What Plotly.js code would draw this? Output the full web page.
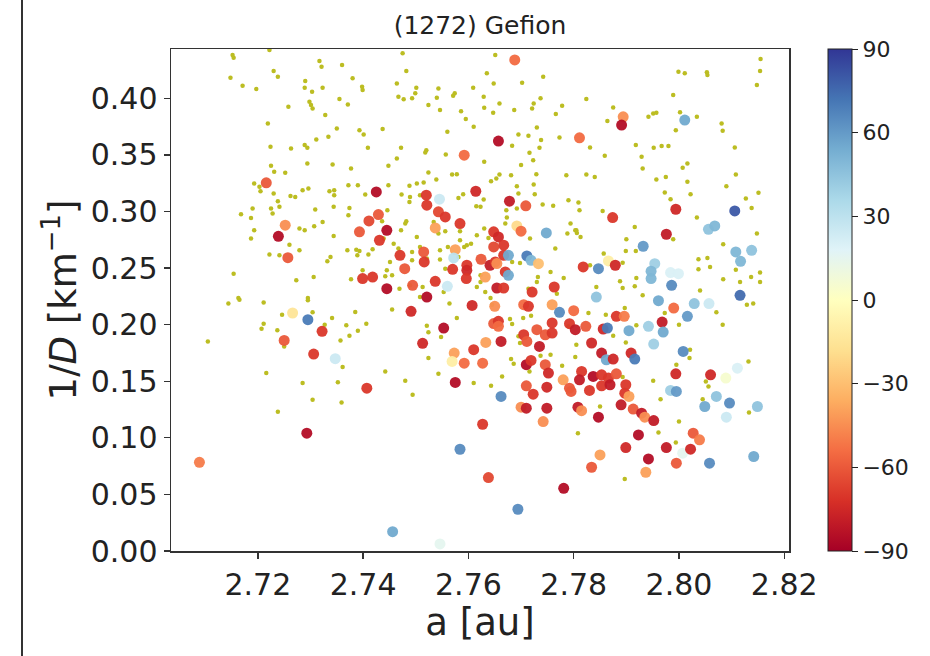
<!DOCTYPE html>
<html>
<head>
<meta charset="utf-8">
<script src="https://cdn.plot.ly/plotly-3.0.1.min.js"></script>
<style>html,body{margin:0;padding:0;background:#fff}#chart{width:930px;height:656px}</style>
</head>
<body>
<div id="chart"></div>
<script>
// Background family members (small olive dots): semi-major axis a [au] and 1/D [km^-1]
const dotA = [2.7152,2.7154,2.7222,2.7148,2.7171,2.7197,2.7230,2.7238,2.7258,2.7290,2.7289,2.7303,2.7323,2.7317,2.7321,2.7360,2.7380,2.7398,2.7399,2.7355,2.7371,2.7298,2.7301,2.7304,2.7328,2.7219,2.7350,2.7334,2.7311,2.7393,2.7401,2.7409,2.7224,2.7263,2.7289,2.7294,2.7294,2.7342,2.7377,2.7225,2.7231,2.7252,2.7193,2.7203,2.7205,2.7230,2.7262,2.7271,2.7285,2.7296,2.7336,2.7345,2.7345,2.7372,2.7390,2.7404,2.7238,2.7241,2.7225,2.7228,2.7168,2.7190,2.7187,2.7309,2.7344,2.7374,2.7372,2.7193,2.7187,2.7279,2.7289,2.7307,2.7323,2.7344,2.7260,2.7279,2.7222,2.7241,2.7332,2.7338,2.7370,2.7387,2.7393,2.7389,2.7410,2.7418,2.7377,2.7399,2.7154,2.7273,2.7306,2.7163,2.7295,
2.7144,2.7165,2.7211,2.7295,2.7246,2.7304,2.7341,2.7385,2.7211,2.7207,2.7237,2.7327,2.7368,2.7406,2.7390,2.7374,2.7357,2.7105,2.7250,2.7361,2.7216,2.7285,2.7352,2.7304,2.7359,2.7238,
2.7475,2.7482,2.7464,2.7501,2.7499,2.7467,2.7477,2.7493,2.7543,2.7540,2.7524,2.7546,2.7574,2.7571,2.7609,2.7586,2.7595,2.7610,2.7629,2.7630,2.7635,2.7648,2.7651,2.7659,2.7647,2.7687,2.7702,2.7742,2.7737,2.7724,2.7721,2.7778,2.7766,2.7730,2.7695,2.7714,2.7773,2.7738,2.7735,2.7716,2.7723,2.7700,2.7683,2.7681,2.7729,2.7786,2.7437,2.7472,2.7464,2.7448,2.7520,2.7518,2.7557,2.7560,2.7630,2.7524,2.7539,2.7515,2.7502,2.7488,2.7448,2.7473,2.7489,2.7488,2.7508,2.7569,2.7578,2.7581,2.7590,2.7615,2.7623,2.7629,2.7643,2.7653,2.7659,2.7692,2.7695,2.7724,2.7726,2.7741,2.7761,2.7790,2.7809,2.7811,2.7794,2.7805,2.7806,2.7788,2.7672,2.7670,2.7673,2.7692,2.7630,2.7616,2.7638,2.7605,2.7592,2.7584,2.7584,2.7556,2.7561,2.7534,2.7502,2.7493,2.7480,2.7482,2.7472,2.7446,2.7436,2.7439,2.7458,2.7467,2.7451,2.7543,2.7508,2.7556,2.7546,2.7521,2.7546,2.7493,2.7445,2.7489,2.7513,2.7469,2.7455,2.7442,2.7508,2.7623,2.7623,2.7616,2.7581,2.7597,2.7683,2.7698,2.7717,2.7732,2.7714,2.7730,2.7781,2.7803,2.7813,2.7765,2.7756,2.7768,2.7632,2.7642,2.7553,
2.7999,2.8011,2.8053,2.8054,2.8155,2.8154,2.8148,2.7989,2.7824,2.7875,2.7864,2.7942,2.7951,2.7957,2.8002,2.8034,2.7994,2.8081,2.8083,2.7918,2.7952,2.7967,2.7980,2.7859,2.7929,2.7931,2.8007,2.8016,2.8106,2.7831,2.7824,2.7840,2.7957,2.7975,2.8016,2.8022,2.7973,2.7984,2.8108,2.8090,2.8151,2.8127,2.8138,2.7855,2.8034,2.7916,2.7900,2.7899,2.7918,2.7857,2.7893,2.7989,2.8037,2.8054,2.8084,2.8148,2.8037,2.8059,2.8108,2.8154,2.8137,2.8084,2.7831,2.7843,2.7888,2.7893,2.7916,2.7919,2.7931,2.8040,2.8154,2.8116,
2.7455,2.7442,2.7480,2.7494,2.7521,2.7524,2.7548,2.7578,2.7564,2.7543,2.7610,2.7643,2.7664,2.7524,2.7679,2.7683,2.7704,2.7719,2.7645,2.7698,2.7695,2.7681,2.7686,2.7716,2.7737,2.7756,2.7778,2.7803,2.7808,2.7790,2.7805,
2.7897,2.7861,2.7828,2.7919,2.7875,2.7899,2.7973,2.8000,2.8083,2.8071,2.8129,2.8141,2.8132,2.8021,2.8020,2.7995,2.7951,2.7965,2.8056,2.8051,2.8045,2.8000,2.7961,2.7994,2.8133,2.7850,2.7893,2.7897];
const dotInvD = [0.4383,0.4359,0.4427,0.4182,0.4112,0.4082,0.4241,0.4191,0.3926,0.4153,0.4094,0.4059,0.4094,0.4330,0.4280,0.4295,0.4177,0.4103,0.4073,0.3994,0.3946,0.3970,0.3941,0.3911,0.3852,0.3778,0.3734,0.3660,0.3637,0.3719,0.3681,0.3563,0.3572,0.3557,0.3587,0.3563,0.3424,0.3415,0.3380,0.3404,0.3351,0.3342,0.3247,0.3218,0.3179,0.3159,0.3138,0.3129,0.3188,0.3203,0.3179,0.3188,0.3144,0.3233,0.3233,0.3150,0.3091,0.3041,0.3026,0.2982,0.2976,0.3026,0.2943,0.3017,0.3041,0.3032,0.2967,0.2834,0.2761,0.2849,0.2834,0.2870,0.2908,0.2784,0.2707,0.2657,0.2619,0.2613,0.2560,0.2598,0.2657,0.2663,0.2651,0.2613,0.2619,0.2666,0.2401,0.2480,0.2451,0.2392,0.2421,0.2236,0.2236,
0.2186,0.2221,0.2197,0.2215,0.2088,0.2109,0.2059,0.2112,0.2009,0.1964,0.1950,0.1999,0.1994,0.2009,0.1947,0.1902,0.1861,0.1852,0.1808,0.1625,0.1572,0.1484,0.1492,0.1336,0.1312,0.1230,
0.4398,0.4241,0.4132,0.4094,0.4044,0.4014,0.3991,0.4000,0.4088,0.4005,0.3941,0.3896,0.4044,0.4023,0.4094,0.3887,0.3817,0.3749,0.4014,0.3917,0.4221,0.4132,0.4383,0.3955,0.3873,0.3896,0.4138,0.4191,0.4000,0.3955,0.3911,0.3935,0.3861,0.3743,0.3681,0.3669,0.3654,0.3631,0.3563,0.3519,0.3454,0.3410,0.3581,0.3321,0.3330,0.3321,0.3728,0.3563,0.3469,0.3404,0.3542,0.3522,0.3504,0.3705,0.3439,0.3345,0.3283,0.3256,0.3247,0.3227,0.3233,0.3150,0.3129,0.3085,0.3144,0.3327,0.3330,0.3120,0.3153,0.3047,0.3041,0.3106,0.3268,0.3292,0.3327,0.3224,0.3159,0.3238,0.3153,0.3061,0.3050,0.3100,0.3079,0.3011,0.2893,0.2834,0.2811,0.2805,0.3011,0.2893,0.2946,0.3026,0.2849,0.2790,0.2766,0.2716,0.2687,0.2825,0.2746,0.2825,0.2687,0.2908,0.2775,0.2643,0.2893,0.2914,0.2834,0.3011,0.2914,0.2761,0.2716,0.2672,0.2554,0.2805,0.2687,0.2495,0.2575,0.2584,0.2657,0.2569,0.2480,0.2348,0.2333,0.2318,0.2436,0.2427,0.2244,0.2436,0.2377,0.2333,0.2598,0.2702,0.2554,0.2545,0.2761,0.2421,0.2318,0.2377,0.2413,0.2834,0.2775,0.2672,0.2466,0.2274,0.2289,0.2236,0.2289,
0.4236,0.4221,0.4230,0.4206,0.4348,0.4241,0.4118,0.4029,0.3994,0.3920,0.3799,0.3837,0.3867,0.3873,0.3876,0.3837,0.3719,0.3778,0.3713,0.3587,0.3563,0.3578,0.3578,0.3492,0.3483,0.3380,0.3386,0.3424,0.3566,0.3566,0.3327,0.3306,0.3283,0.3306,0.3262,0.3153,0.3168,0.3109,0.3327,0.3224,0.3165,0.3115,0.3032,0.3005,0.2946,0.2864,0.2755,0.2651,0.2651,0.2628,0.2548,0.2755,0.2578,0.2590,0.2710,0.2805,0.2489,0.2510,0.2486,0.2460,0.2421,0.2401,0.2525,0.2333,0.2383,0.2324,0.2339,0.2413,0.2259,0.2303,0.2377,0.2377,
0.2133,0.1587,0.1504,0.1380,0.1991,0.1932,0.1891,0.2059,0.2186,0.1566,0.1484,0.1460,0.1543,0.1705,0.2050,0.2006,0.2059,0.2079,0.2177,0.1838,0.1897,0.1696,0.1655,0.1587,0.1725,0.1734,0.1637,0.1714,0.1041,0.1985,0.1823,
0.2147,0.2088,0.2103,0.1994,0.1902,0.1843,0.2103,0.1999,0.1999,0.2109,0.2177,0.2186,0.1675,0.1779,0.1705,0.1646,0.1504,0.1342,0.1454,0.1498,0.1342,0.1144,0.1047,0.0959,0.1224,0.1277,0.1537,0.0637];

// Coloured members: a [au], 1/D [km^-1], colour value (-90..90)
const ptA = [2.7089,2.7216,2.7252,2.7239,2.7257,2.7266,2.7295,2.7322,2.7250,2.7306,2.7347,2.7407,2.7293,2.7425,2.7411,2.7429,2.7393,2.7445,2.7431,2.7399,2.7418,2.7445,2.7470,2.7515,2.7516,2.7479,2.7494,2.7520,2.7521,2.7543,2.7556,2.7545,2.7537,2.7584,2.7575,2.7572,2.7597,2.7597,2.7570,2.7624,2.7641,2.7651,2.7667,2.7654,2.7676,2.7670,2.7676,2.7711,2.7719,2.7733,2.7632,2.7537,2.7560,2.7596,2.7654,2.7667,2.7721,2.7763,2.7521,2.7818,2.7648,2.7657,2.7667,2.7648,2.7692,2.7700,2.7748,2.7614,2.7678,2.7709,2.7592,2.7657,2.7688,2.7811,2.7491,2.7607,2.7553,2.7513,2.7573,2.7569,2.7592,2.7610,2.7627,2.7633,2.7662,2.7648,2.7657,2.7657,2.7650,2.7575,2.7662,2.7627,2.7584,2.7638,2.7781,2.7694,2.7456,2.7546,2.7705,2.7714,2.7759,2.7773,2.7800,2.7705,2.7711,2.7730,2.7746,2.7759,2.7759,2.7792,2.7803,2.7735,2.7710,2.7719,2.7746,2.7752,2.7780,2.7792,2.7795,2.7815,2.7811,2.7710,2.7723,2.7749,2.7700,2.7710,2.7749,2.7742,2.7808,2.7815,2.7894,2.7891,2.8011,2.7874,2.7994,2.8106,2.7976,2.8056,2.8068,2.7932,2.8108,2.8117,2.8138,2.7866,2.7879,2.7847,2.7954,2.7947,2.7947,2.7984,2.7999,2.7986,2.8116,2.7843,2.7961,2.7990,2.8029,2.8057,2.8016,2.7881,2.7896,2.7823,2.7856,2.7864,2.7905,2.7942,2.7968,2.7970,2.7952,2.7834,2.7853,2.7862,2.7875,2.7909,2.7916,2.8008,2.8111,2.8089,2.8060,2.7994,2.7984,2.7995,2.8071,2.8096,2.8049,2.8149,2.8090,2.7837,2.7853,2.7866,2.7881,2.7830,2.7853,2.7869,2.7899,2.7897,2.7905,2.7890,2.7913,2.7929,2.7935,2.7952,2.7847,2.7923,2.7899,2.7850,2.7834,2.7942,2.7937,2.7976,2.7995,2.8007,2.8022,2.8027,2.8039,2.8058,2.8142];
const ptInvD = [0.0784,0.3253,0.2879,0.2781,0.2592,0.2103,0.2044,0.1941,0.1861,0.1740,0.1699,0.1439,0.1041,0.3173,0.2917,0.2973,0.2820,0.2834,0.2746,0.2407,0.2421,0.2318,0.2613,0.2643,0.2554,0.2495,0.2348,0.3144,0.3056,0.2997,0.2952,0.3109,0.2855,0.2893,0.2663,0.2590,0.2525,0.2480,0.2489,0.2578,0.2525,0.2554,0.2613,0.2540,0.2613,0.2466,0.2436,0.2607,0.2569,0.2539,0.2421,0.2383,0.2339,0.2407,0.2324,0.2324,0.2288,0.2333,0.2244,0.2510,0.2820,0.2775,0.2702,0.2687,0.2873,0.2826,0.2811,0.3179,0.3091,0.3050,0.3498,0.3622,0.4339,0.3651,0.2118,0.2170,0.1970,0.1835,0.1749,0.1675,0.1660,0.1779,0.1660,0.1843,0.1852,0.2010,0.2030,0.1985,0.2162,0.1490,0.1366,0.1120,0.0899,0.0649,0.0554,0.0369,0.0171,0.0062,0.2177,0.2162,0.2177,0.2109,0.2124,0.1911,0.1852,0.1956,0.1911,0.1926,0.2015,0.2009,0.1956,0.1808,0.1646,0.1684,0.1646,0.1572,0.1513,0.1439,0.1410,0.1587,0.1513,0.1460,0.1386,0.1448,0.1271,0.1262,0.1262,0.1144,0.1271,0.1240,0.3837,0.3764,0.3808,0.2946,0.3020,0.3005,0.2799,0.2843,0.2873,0.2693,0.2643,0.2560,0.2657,0.2563,0.2525,0.2495,0.2539,0.2472,0.2407,0.2460,0.2451,0.2348,0.2259,0.2244,0.2212,0.2147,0.2186,0.2186,0.2074,0.2074,0.2074,0.1985,0.1961,0.1970,0.1947,0.1985,0.2023,0.1935,0.1829,0.1838,0.1749,0.1690,0.1696,0.1749,0.1696,0.1764,0.1616,0.1528,0.1557,0.1566,0.1419,0.1410,0.1366,0.1307,0.1277,0.1277,0.1183,0.1543,0.1557,0.1528,0.1566,0.1419,0.1460,0.1469,0.1469,0.1395,0.1366,0.1292,0.1254,0.1218,0.1183,0.1153,0.1183,0.1026,0.0914,0.0849,0.0740,0.0814,0.0696,0.0914,0.0776,0.0864,0.0900,0.1041,0.0982,0.0776,0.0835];
const ptVal = [-50,-60,-45,-85,-60,-15,70,-70,-60,-70,25,-70,-85,-85,-65,-60,-60,-85,-70,-70,-70,-85,-70,-60,-70,-60,-60,-70,-70,-65,-70,25,-40,-70,-40,30,-70,-75,-70,-60,-80,-70,-70,-45,55,-70,55,70,50,-30,-40,-70,25,-70,-80,-70,-70,-70,-85,-70,-70,-75,-70,-65,-20,-55,55,-75,-80,-60,-55,-85,-55,-55,-75,-75,-85,-75,-40,-10,-55,-70,-55,-40,-80,-60,-70,-55,-45,-85,65,-70,65,-65,-85,65,55,15,-55,-70,-40,65,-55,-70,-60,-60,-60,-70,-70,-70,-80,-80,-85,-70,-60,-75,-40,-60,-60,-70,-80,-60,-70,-75,-45,-80,-80,-45,-80,-45,-45,-85,55,-70,-75,80,-80,45,50,60,50,50,45,-10,-75,65,40,50,50,20,20,65,75,45,55,-55,45,25,60,-70,-50,-60,-75,70,55,40,-80,55,40,-75,-80,55,-75,-75,70,65,20,5,-75,-75,40,60,45,65,55,45,25,-85,-70,-70,-60,-70,-70,-80,-70,-70,-40,-80,-60,-80,-45,-80,-85,-85,-75,-40,-60,-85,-40,-80,-60,15,-75,-60,-50,65,55];

const xTicks = [2.72, 2.74, 2.76, 2.78, 2.80, 2.82];
const yTicks = [0.00, 0.05, 0.10, 0.15, 0.20, 0.25, 0.30, 0.35, 0.40];
const cbTicks = [-90, -60, -30, 0, 30, 60, 90];

const rdylbu = [[0.0,'#a50026'],[0.1,'#d73027'],[0.2,'#f46d43'],[0.3,'#fdae61'],[0.4,'#fee090'],[0.5,'#ffffbf'],[0.6,'#e0f3f8'],[0.7,'#abd9e9'],[0.8,'#74add1'],[0.9,'#4575b4'],[1.0,'#313695']];
const F = 'DejaVu Sans, sans-serif';

const traces = [
  {type:'scatter', mode:'markers', x: dotA, y: dotInvD, hoverinfo:'skip',
   marker:{size:4.5, color:'#bcbd22', line:{width:0}}},
  {type:'scatter', mode:'markers', x: ptA, y: ptInvD,
   marker:{size:11, color: ptVal, cmin:-90, cmax:90, colorscale: rdylbu, opacity:0.95, line:{width:0},
     colorbar:{x:1.063, xanchor:'left', xpad:0, ypad:0, y:0.5, yanchor:'middle', len:1, lenmode:'fraction',
       thickness:24, thicknessmode:'pixels', outlinewidth:1, outlinecolor:'#222',
       tickmode:'array', tickvals: cbTicks, ticktext: cbTicks.map(v => v < 0 ? '\u2212' + Math.abs(v) : String(v)),
       ticks:'outside', ticklen:6, tickwidth:1, tickcolor:'#222',
       tickfont:{family:F, size:22, color:'#222'}}}}
];

const layout = {
  width:930, height:656,
  margin:{l:171, r:141, t:49, b:105},
  paper_bgcolor:'#fff', plot_bgcolor:'#fff',
  showlegend:false,
  title:{text:'(1272) Gefion', font:{family:F, size:25, color:'#222'}, x:0.5, xref:'paper', y:0.962, yref:'container', yanchor:'middle'},
  xaxis:{range:[2.7035, 2.8209], tickmode:'array', tickvals:xTicks, tickformat:'.2f',
    ticks:'outside', ticklen:6, tickwidth:1.3, tickcolor:'#333',
    showline:true, mirror:true, linecolor:'#333', linewidth:1.5, showgrid:false, zeroline:false,
    tickfont:{family:F, size:30, color:'#222'},
    title:{text:'a [au]', font:{family:F, size:37, color:'#222'}, standoff:4}},
  yaxis:{range:[0, 0.4436], tickmode:'array', tickvals:yTicks, tickformat:'.2f',
    ticks:'outside', ticklen:6, tickwidth:1.3, tickcolor:'#333',
    showline:true, mirror:true, linecolor:'#333', linewidth:1.5, showgrid:false, zeroline:false,
    tickfont:{family:F, size:30, color:'#222'},
    title:{text:'1/<i>D</i> [km<sup>\u22121</sup>]', font:{family:F, size:37, color:'#222'}, standoff:3}},
  shapes:[{type:'line', xref:'paper', yref:'paper', x0:-0.2411, x1:-0.2411, y0:-0.215, y1:1.1, line:{color:'#333', width:2}}]
};

Plotly.newPlot('chart', traces, layout, {displayModeBar:false, staticPlot:true});
</script>
</body>
</html>
